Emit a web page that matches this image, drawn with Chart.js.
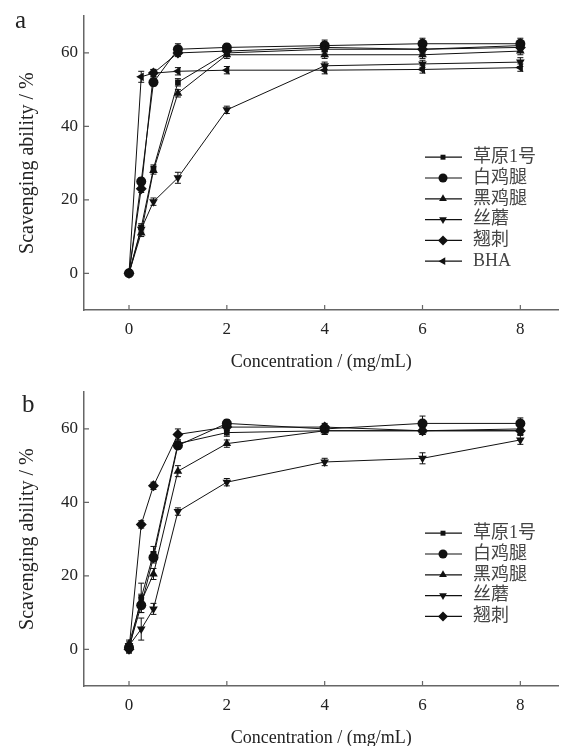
<!DOCTYPE html>
<html>
<head>
<meta charset="utf-8">
<script src="https://cdn.jsdelivr.net/npm/chart.js@4.4.1/dist/chart.umd.min.js"></script>
<style>
  body { margin: 0; background: #fff; }
  canvas { position: absolute; left: 0; }
  #chartA { top: 0; }
  #chartB { top: 376px; }
</style>
</head>
<body>
<canvas id="chartA" width="564" height="373"></canvas>
<canvas id="chartB" width="564" height="373"></canvas>
<script>
// concentrations (mg/mL) and axis ticks
const concentrations = [0, 0.25, 0.5, 1, 2, 4, 6, 8];
const xTicks = [0, 2, 4, 6, 8];
const yTicks = [0, 20, 40, 60];
const seriesNames = ['草原1号', '白鸡腿', '黑鸡腿', '丝蘑', '翘刺', 'BHA'];

// panel a - scavenging ability (%)
const aCaoyuan = [0, 12.5, 28.5, 52, 60, 61, 61, 62];
const aBaijitui = [0, 25, 52, 61, 61.5, 62, 62.5, 62.5];
const aHeijitui = [0, 11, 28, 49, 59.5, 59.5, 59.5, 60.5];
const aSimo = [0, 12, 19.5, 26, 44.5, 56.5, 57, 57.5];
const aQiaoci = [0, 23, 54.5, 60, 60.5, 61.5, 61, 61.5];
const aBHA = [0, 53.5, 54.5, 55, 55.3, 55.3, 55.5, 56];
// panel a - error bars
const aCaoyuanErr = [0.8, 1, 1, 1, 1, 1, 1, 1];
const aBaijituiErr = [0.8, 1, 1, 1.5, 1, 1.5, 1.5, 1.5];
const aHeijituiErr = [0.8, 1, 1, 1, 1, 1, 1, 1];
const aSimoErr = [0.8, 1, 1, 1.5, 1, 1, 1, 1.2];
const aQiaociErr = [0.8, 1, 1, 1, 1, 1, 1, 1];
const aBHAErr = [0.8, 1.5, 1, 1, 1, 1, 1, 1];

// panel b - scavenging ability (%)
const bCaoyuan = [0, 14, 26, 56, 59, 59.5, 59.5, 59.5];
const bBaijitui = [0.5, 12, 25, 55.5, 61.5, 60, 61.5, 61.5];
const bHeijitui = [1.5, 13, 20.5, 48.5, 56, 59.5, 59.5, 60];
const bSimo = [1, 5.5, 11, 37.5, 45.5, 51, 52, 57];
const bQiaoci = [0, 34, 44.5, 58.5, 60.5, 60.5, 59.5, 59.5];
// panel b - error bars
const bCaoyuanErr = [1, 4, 2, 1, 1, 1, 1, 1];
const bBaijituiErr = [1, 2, 1.5, 1, 1, 1, 2, 1.5];
const bHeijituiErr = [1, 2, 1.5, 1.5, 1, 1, 1, 1];
const bSimoErr = [1, 3, 1.5, 1, 1, 1, 1.5, 1.2];
const bQiaociErr = [1, 1, 1, 1.5, 1, 1, 1, 1];

const markers = [
  { style: 'rect', radius: 4, rotation: 0 },
  { style: 'circle', radius: 5, rotation: 0 },
  { style: 'triangle', radius: 5, rotation: 0 },
  { style: 'triangle', radius: 5, rotation: 180 },
  { style: 'rectRot', radius: 5.5, rotation: 0 },
  { style: 'triangle', radius: 5, rotation: -90 }
];

Chart.defaults.font.family = "'Liberation Serif', serif";
Chart.defaults.color = '#222';

// small inward ticks on both axes
const inwardTicks = {
  id: 'inwardTicks',
  afterDraw(chart) {
    const { ctx, chartArea: a, scales: { x, y } } = chart;
    ctx.save();
    ctx.strokeStyle = '#666';
    ctx.lineWidth = 1.2;
    ctx.beginPath();
    yTicks.forEach(v => {
      const py = y.getPixelForValue(v);
      ctx.moveTo(a.left, py);
      ctx.lineTo(a.left + 5, py);
    });
    xTicks.forEach(v => {
      const px = x.getPixelForValue(v);
      ctx.moveTo(px, a.bottom);
      ctx.lineTo(px, a.bottom - 5);
    });
    ctx.stroke();
    ctx.restore();
  }
};

// vertical error bars with caps
const errorBars = {
  id: 'errorBars',
  afterDatasetsDraw(chart) {
    const { ctx, scales: { y } } = chart;
    ctx.save();
    ctx.strokeStyle = '#111';
    ctx.lineWidth = 1;
    chart.data.datasets.forEach((ds, i) => {
      const meta = chart.getDatasetMeta(i);
      ds.errors.forEach((e, j) => {
        const pt = meta.data[j];
        const v = ds.data[j].y;
        const top = y.getPixelForValue(v + e);
        const bot = y.getPixelForValue(v - e);
        ctx.beginPath();
        ctx.moveTo(pt.x, top); ctx.lineTo(pt.x, bot);
        ctx.moveTo(pt.x - 3, top); ctx.lineTo(pt.x + 3, top);
        ctx.moveTo(pt.x - 3, bot); ctx.lineTo(pt.x + 3, bot);
        ctx.stroke();
      });
    });
    ctx.restore();
  }
};

// legend inside the plot and the panel letter
const insideLegend = {
  id: 'insideLegend',
  afterDraw(chart) {
    const { ctx, chartArea: a } = chart;
    const opts = chart.options.plugins.insideLegend;
    const x0 = a.left + 341;
    ctx.save();
    chart.data.datasets.forEach((ds, i) => {
      const yy = a.top + 141 + i * 20.8;
      ctx.strokeStyle = '#111';
      ctx.lineWidth = 1.2;
      ctx.beginPath();
      ctx.moveTo(x0, yy); ctx.lineTo(x0 + 37, yy);
      ctx.stroke();
      ctx.fillStyle = '#111';
      Chart.helpers.drawPoint(ctx, {
        pointStyle: ds.pointStyle, radius: ds.pointRadius - 0.5,
        rotation: ds.pointRotation, borderWidth: 0
      }, x0 + 18, yy);
      ctx.fillStyle = '#444';
      ctx.textBaseline = 'middle';
      ctx.font = "18px 'Liberation Serif', 'Noto Sans CJK SC', serif";
      ctx.fillText(ds.label, x0 + 48, yy);
    });
    ctx.fillStyle = '#222';
    ctx.textBaseline = 'alphabetic';
    ctx.font = "25px 'Liberation Serif', serif";
    ctx.fillText(opts.letter, opts.lx, opts.ly);
    ctx.restore();
  }
};

function buildChart(canvasId, seriesList, errList, letter, lx, ly) {
  const datasets = seriesList.map((vals, i) => ({
    label: seriesNames[i],
    data: concentrations.map((c, j) => ({ x: c, y: vals[j] })),
    errors: errList[i],
    borderColor: '#111',
    backgroundColor: '#111',
    borderWidth: 1,
    pointStyle: markers[i].style,
    pointRadius: markers[i].radius,
    pointRotation: markers[i].rotation,
    pointBorderWidth: 0,
    tension: 0
  }));

  return new Chart(document.getElementById(canvasId), {
    type: 'line',
    data: { datasets },
    options: {
      responsive: false,
      animation: false,
      layout: { padding: { top: 14, right: 4, left: 0, bottom: 0 } },
      plugins: {
        legend: { display: false },
        tooltip: { enabled: false },
        insideLegend: { letter, lx, ly }
      },
      scales: {
        x: {
          type: 'linear',
          min: -0.92,
          max: 8.78,
          afterBuildTicks: scale => { scale.ticks = xTicks.map(v => ({ value: v })); },
          afterFit: scale => { scale.height = 63; },
          grid: { display: true, drawOnChartArea: false, drawTicks: false },
          border: { display: true, color: '#666', width: 1.5 },
          ticks: { padding: 9, font: { size: 17 } },
          title: {
            display: true,
            text: 'Concentration / (mg/mL)',
            font: { size: 18 },
            padding: { top: 0, bottom: 0 }
          }
        },
        y: {
          min: -10,
          max: 70,
          afterBuildTicks: scale => { scale.ticks = yTicks.map(v => ({ value: v })); },
          afterFit: scale => { scale.width = 84; },
          grid: { display: true, drawOnChartArea: false, drawTicks: false },
          border: { display: true, color: '#666', width: 1.5 },
          ticks: { padding: 6, font: { size: 17 } },
          title: {
            display: true,
            text: 'Scavenging ability / %',
            font: { size: 20 },
            padding: { top: 16, bottom: 0 }
          }
        }
      }
    },
    plugins: [errorBars, inwardTicks, insideLegend]
  });
}

buildChart('chartA',
  [aCaoyuan, aBaijitui, aHeijitui, aSimo, aQiaoci, aBHA],
  [aCaoyuanErr, aBaijituiErr, aHeijituiErr, aSimoErr, aQiaociErr, aBHAErr],
  'a', 15, 28);

buildChart('chartB',
  [bCaoyuan, bBaijitui, bHeijitui, bSimo, bQiaoci],
  [bCaoyuanErr, bBaijituiErr, bHeijituiErr, bSimoErr, bQiaociErr],
  'b', 22, 36);
</script>
</body>
</html>
